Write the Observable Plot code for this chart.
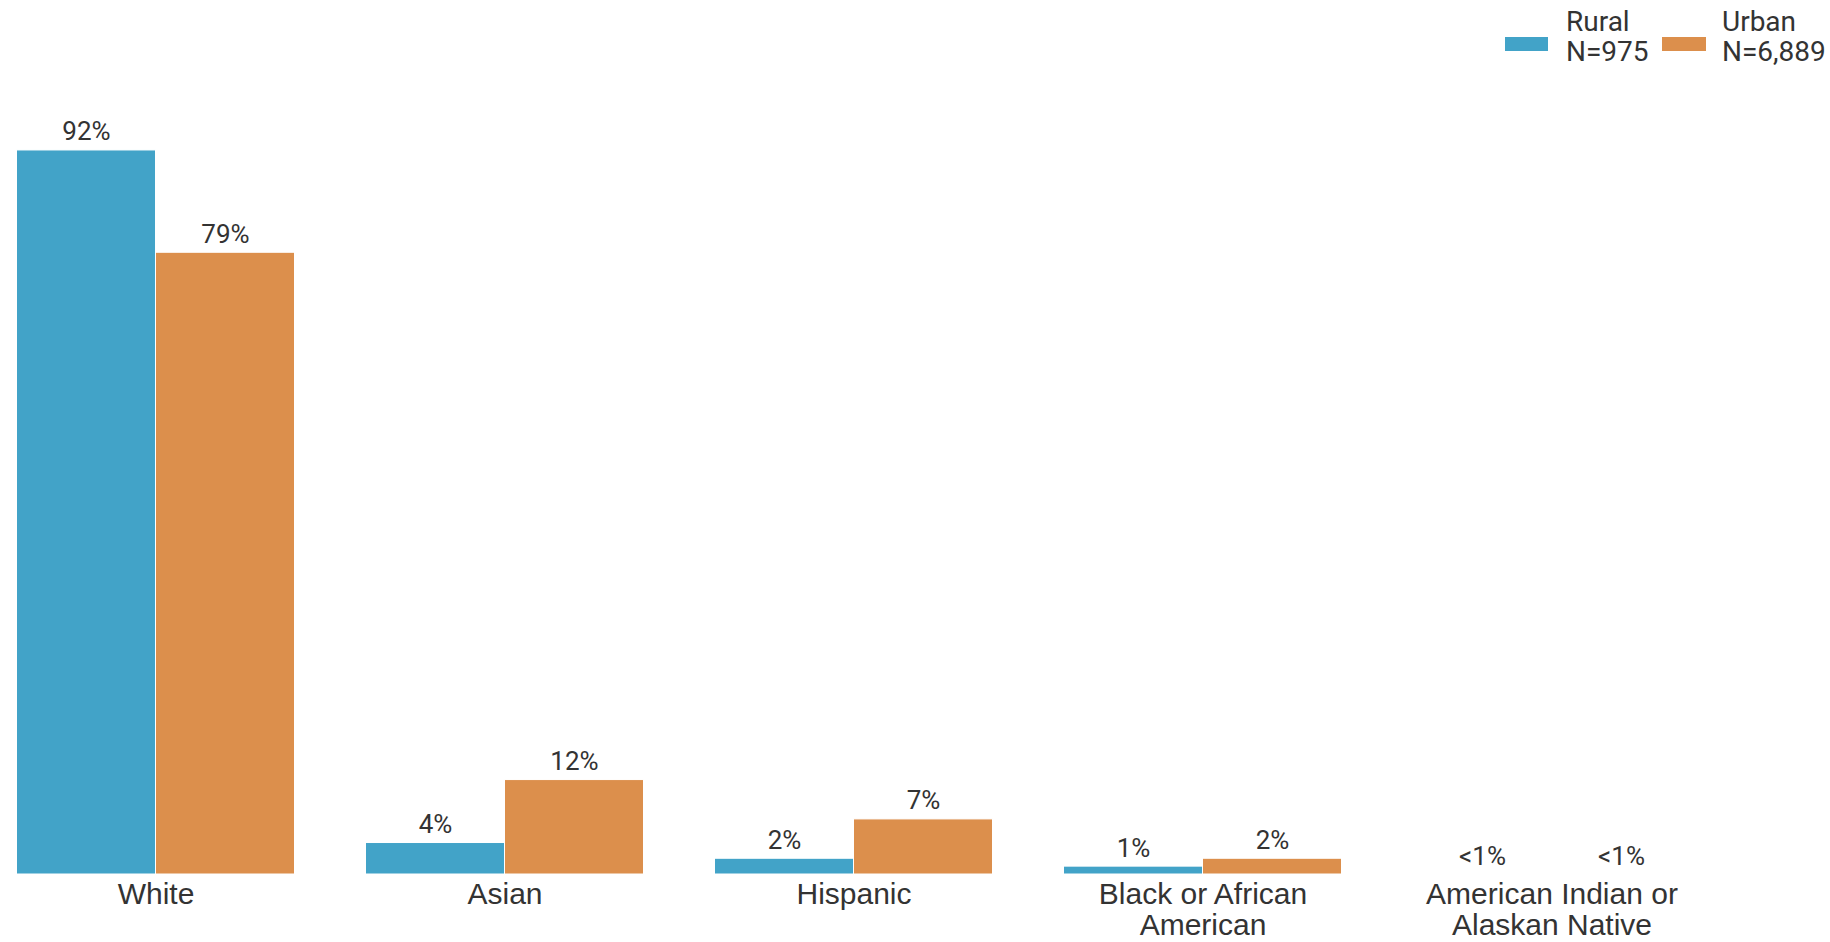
<!DOCTYPE html>
<html><head><meta charset="utf-8">
<script src="https://cdn.jsdelivr.net/npm/d3@7"></script>
<script src="https://cdn.jsdelivr.net/npm/@observablehq/plot@0.6"></script>
<style>
body{margin:0;background:#fff;}
#wrap{position:relative;width:1830px;height:942px;overflow:hidden;}
.sw{position:absolute;height:14px;}
.lt{position:absolute;font-family:Roboto,sans-serif;font-size:28px;line-height:30px;color:#333;white-space:nowrap;}
</style></head>
<body><div id="wrap"></div>
<script>
const categories = ["White","Asian","Hispanic","Black or African American","American Indian or Alaskan Native"];
const categoryLines = ["White","Asian","Hispanic","Black or African\nAmerican","American Indian or\nAlaskan Native"];
const groups = ["Rural","Urban"];
const groupN = ["N=975","N=6,889"];
const colors = ["#42a3c8","#dc8f4c"];
const rural = [92,4,2,1,0];
const urban = [79,12,7,2,0];
const ruralLabels = ["92%","4%","2%","1%","<1%"];
const urbanLabels = ["79%","12%","7%","2%","<1%"];

const data = categories.flatMap((c,i)=>[
  {category:c, group:groups[0], value:rural[i], label:ruralLabels[i]},
  {category:c, group:groups[1], value:urban[i], label:urbanLabels[i]}
]);
const lineMap = new Map(categories.map((c,i)=>[c,categoryLines[i]]));

const chart = Plot.plot({
  width:1830, height:942,
  marginTop:87, marginBottom:68, marginLeft:14.5, marginRight:137,
  style:{fontFamily:"Roboto, sans-serif", color:"#333", background:"white"},
  fx:{domain:categories, paddingInner:0.2, paddingOuter:0, label:null},
  x:{domain:groups, padding:0, axis:null},
  y:{domain:[0,100], axis:null},
  color:{domain:groups, range:colors},
  marks:[
    Plot.barY(data,{fx:"category", x:"group", y:"value", fill:"group", stroke:"white", strokeWidth:1}),
    Plot.text(data,{fx:"category", x:"group", y:"value", text:"label", lineAnchor:"bottom", dy:-10, fontSize:26, fill:"#333"}),
    Plot.axisFx({anchor:"bottom", tickSize:0, tickPadding:8, fontSize:30, fontFamily:"'Liberation Sans', Arial, sans-serif", lineHeight:1.02, fill:"#333", tickFormat:d=>lineMap.get(d), label:null})
  ]
});
const wrap = document.getElementById("wrap");
wrap.appendChild(chart);

const legendPos = [{sw:1505, swW:43, tx:1566},{sw:1662, swW:44, tx:1722}];
groups.forEach((g,i)=>{
  const s=document.createElement("div"); s.className="sw";
  s.style.left=legendPos[i].sw+"px"; s.style.top="37px"; s.style.width=legendPos[i].swW+"px"; s.style.background=colors[i];
  wrap.appendChild(s);
  const t=document.createElement("div"); t.className="lt";
  t.style.left=legendPos[i].tx+"px"; t.style.top="7px";
  t.innerHTML=g+"<br>"+groupN[i];
  wrap.appendChild(t);
});
</script></body></html>
